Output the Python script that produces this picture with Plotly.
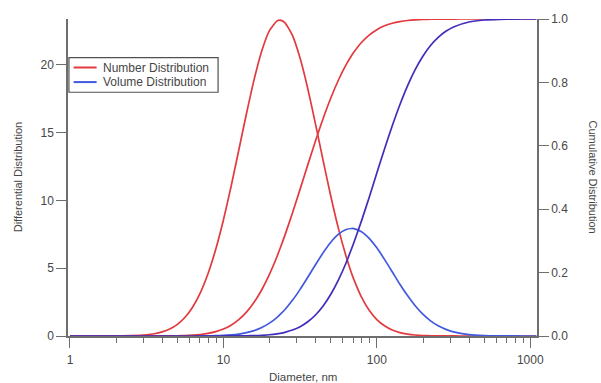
import plotly.graph_objects as go

# Diameter (nm)
diameter = [1, 1.259, 1.585, 1.995, 2.512, 3.162, 3.548, 3.981, 4.467, 5.012, 5.623, 6.310, 7.079,
            7.943, 8.913, 10, 11.22, 12.59, 14.13, 15.85, 17.78, 19.95, 22.39, 23.44, 25.12, 28.18,
            31.62, 35.48, 39.81, 44.67, 50.12, 56.23, 63.10, 68.5, 70.79, 79.43, 89.13, 100, 112.2,
            125.9, 141.3, 158.5, 177.8, 199.5, 223.9, 251.2, 281.8, 316.2, 398.1, 501.2, 631.0,
            794.3, 1000, 1096]

number_diff = [0, 0, 0.001, 0.005, 0.023, 0.089, 0.165, 0.30, 0.515, 0.86, 1.38, 2.14, 3.20,
               4.61, 6.40, 8.56, 11.03, 13.70, 16.39, 18.91, 21.02, 22.52, 23.24, 23.30, 23.12, 22.17,
               20.48, 18.24, 15.65, 12.94, 10.31, 7.92, 5.86, 4.61, 4.18, 2.87, 1.90, 1.21, 0.75,
               0.44, 0.25, 0.14, 0.074, 0.038, 0.019, 0.009, 0.004, 0.002, 0, 0, 0,
               0, 0, 0]

volume_diff = [0, 0, 0, 0, 0, 0, 0, 0.001, 0.001, 0.002, 0.003, 0.003, 0.006,
               0.012, 0.024, 0.045, 0.082, 0.144, 0.244, 0.398, 0.626, 0.947, 1.38, 1.59, 1.94, 2.63,
               3.44, 4.33, 5.25, 6.14, 6.92, 7.51, 7.85, 7.93, 7.92, 7.69, 7.20, 6.50, 5.65,
               4.74, 3.82, 2.98, 2.23, 1.61, 1.12, 0.75, 0.49, 0.30, 0.106, 0.032, 0.008,
               0.002, 0, 0]

number_cum = [0, 0, 0, 0, 0, 0, 0.0001, 0.0002, 0.0004, 0.0008, 0.0015, 0.0027, 0.0048,
              0.0082, 0.0136, 0.0219, 0.0341, 0.0514, 0.0752, 0.1064, 0.1460, 0.1944, 0.2517, 0.2770,
              0.3167, 0.3878, 0.4633, 0.5398, 0.6149, 0.6861, 0.7508, 0.8076, 0.8558, 0.8849, 0.8951,
              0.9259, 0.9493, 0.9664, 0.9785, 0.9866, 0.9920, 0.9953, 0.9974, 0.9986, 0.9993, 0.9996,
              0.9998, 0.9999, 1, 1, 1, 1, 1, 1]

volume_cum = [0, 0, 0, 0, 0, 0, 0, 0, 0, 0, 0, 0, 0,
              0, 0, 0.0001, 0.0001, 0.0003, 0.0006, 0.0012, 0.0022, 0.0039, 0.0068, 0.0085, 0.0115,
              0.0187, 0.0295, 0.0449, 0.0663, 0.0948, 0.1316, 0.1770, 0.2312, 0.2756, 0.2939, 0.3632,
              0.4372, 0.5140, 0.5898, 0.6624, 0.7297, 0.7893, 0.8404, 0.8826, 0.9164, 0.9421, 0.9612,
              0.9749, 0.9904, 0.9968, 0.9991, 0.9998, 1, 1]

legend_names = ["Number Distribution", "Volume Distribution"]

x_major = [1, 10, 100, 1000]
x_major_labels = ["1", "10", "100", "1000"]
x_minor = [m * 10 ** e for e in range(3) for m in range(2, 10)]

RED = "rgb(226,58,62)"
BLUE = "rgb(66,88,222)"
DARKBLUE = "rgb(64,46,186)"
AXIS = "rgb(110,110,110)"
TXT = "rgb(70,70,70)"
FONT = "Liberation Sans, Arial, sans-serif"

fig = go.Figure()
line_shape = dict(shape="spline", smoothing=0.6, width=1.7)
fig.add_trace(go.Scatter(x=diameter, y=number_diff, mode="lines", name=legend_names[0],
                         showlegend=False, line=dict(color=RED, **line_shape)))
fig.add_trace(go.Scatter(x=diameter, y=volume_diff, mode="lines", name=legend_names[1],
                         showlegend=False, line=dict(color=BLUE, **line_shape)))
fig.add_trace(go.Scatter(x=diameter, y=number_cum, mode="lines", showlegend=False, yaxis="y2",
                         line=dict(color=RED, **line_shape)))
fig.add_trace(go.Scatter(x=diameter, y=volume_cum, mode="lines", showlegend=False, yaxis="y2",
                         line=dict(color=DARKBLUE, **line_shape)))

# Compact legend box (drawn in paper coordinates)
shapes = [
    dict(type="rect", xref="paper", yref="paper", x0=0.002, x1=0.320, y0=0.769, y1=0.878,
         line=dict(color="rgb(80,80,80)", width=1.2), fillcolor="white", layer="above"),
    dict(type="line", xref="paper", yref="paper", x0=0.012, x1=0.061, y0=0.847, y1=0.847,
         line=dict(color=RED, width=2), layer="above"),
    dict(type="line", xref="paper", yref="paper", x0=0.012, x1=0.061, y0=0.801, y1=0.801,
         line=dict(color=BLUE, width=2), layer="above"),
]

annotations = [
    dict(text=legend_names[0], xref="paper", yref="paper", x=0.070, y=0.847,
         xanchor="left", yanchor="middle", showarrow=False, font=dict(size=12, color=TXT)),
    dict(text=legend_names[1], xref="paper", yref="paper", x=0.070, y=0.801,
         xanchor="left", yanchor="middle", showarrow=False, font=dict(size=12, color=TXT)),
    dict(text="Diameter, nm", xref="paper", yref="paper", x=0.5, y=-0.128,
         xanchor="center", yanchor="middle", showarrow=False, font=dict(size=11.5, color=TXT)),
    dict(text="Differential Distribution", xref="paper", yref="paper", x=-0.107, y=0.5,
         xanchor="center", yanchor="middle", textangle=-90, showarrow=False,
         font=dict(size=11, color=TXT)),
    dict(text="Cumulative Distribution", xref="paper", yref="paper", x=1.1215, y=0.5,
         xanchor="center", yanchor="middle", textangle=90, showarrow=False,
         font=dict(size=11, color=TXT)),
]

fig.update_layout(
    width=601, height=383,
    margin=dict(l=68, r=64, t=16, b=47),
    paper_bgcolor="white", plot_bgcolor="white",
    font=dict(family=FONT, size=12, color=TXT),
    showlegend=False,
    xaxis=dict(type="log", range=[-0.013, 3.044], showgrid=False, zeroline=False,
               showline=True, linecolor=AXIS, linewidth=1.5,
               tickmode="array", tickvals=x_major, ticktext=x_major_labels,
               ticks="outside", ticklen=10, tickwidth=1.3, tickcolor=AXIS,
               ticklabelstandoff=2,
               tickfont=dict(size=12, color=TXT),
               minor=dict(tickmode="array", tickvals=x_minor, ticks="outside",
                          ticklen=5, tickwidth=1.1, tickcolor=AXIS, showgrid=False)),
    yaxis=dict(range=[0, 23.38], showgrid=False, zeroline=False,
               showline=True, linecolor=AXIS, linewidth=1.5,
               tickmode="array", tickvals=[0, 5, 10, 15, 20],
               ticks="outside", ticklen=10, tickwidth=1.3, tickcolor=AXIS,
               tickfont=dict(size=12, color=TXT)),
    yaxis2=dict(range=[0, 1.0], overlaying="y", side="right", anchor="x",
                showgrid=False, zeroline=False,
                showline=True, linecolor=AXIS, linewidth=1.5,
                tickmode="array", tickvals=[0, 0.2, 0.4, 0.6, 0.8, 1.0],
                ticktext=["0.0", "0.2", "0.4", "0.6", "0.8", "1.0"],
                ticks="outside", ticklen=10, tickwidth=1.3, tickcolor=AXIS,
                tickfont=dict(size=12, color=TXT)),
    shapes=shapes,
    annotations=annotations,
)

fig.write_html("out.html")
